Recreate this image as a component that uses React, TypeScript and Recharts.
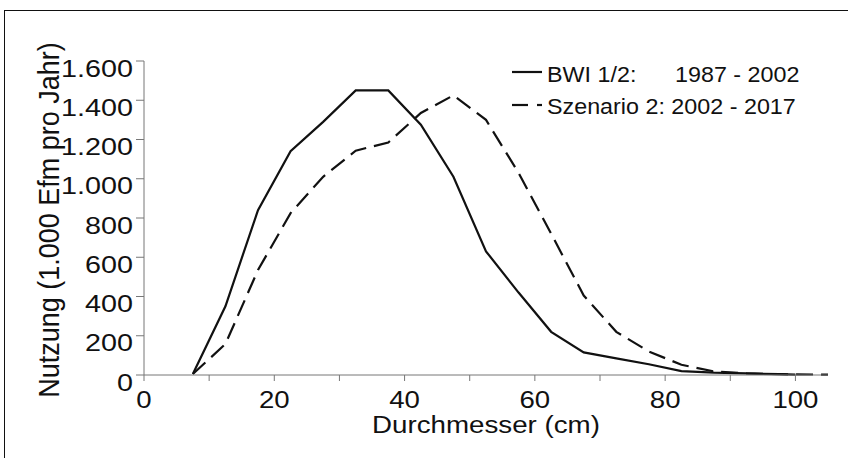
import React from "react";
import { LineChart, Line, XAxis, YAxis } from "recharts";

// Durchmesserklassen (Klassenmitte, cm)
const durchmesser = [
  7.5, 12.5, 17.5, 22.5, 27.5, 32.5, 37.5, 42.5, 47.5, 52.5, 57.5, 62.5, 67.5,
  72.5, 77.5, 82.5, 87.5, 92.5, 97.5, 100, 105,
];
// BWI 1/2: 1987 - 2002
const bwi12 = [
  5, 350, 840, 1140, 1290, 1450, 1450, 1275, 1010, 630, 420, 220, 115, 85, 55,
  20, 12, 8, 4, 2, null,
];
// Szenario 2: 2002 - 2017
const szenario2 = [
  5, 158, 535, 825, 1010, 1143, 1185, 1335, 1425, 1300, 1030, 720, 405, 220,
  120, 52, 18, 8, 4, null, 2,
];
const xTicks = [0, 10, 20, 30, 40, 50, 60, 70, 80, 90, 100];
const yTicks = [0, 200, 400, 600, 800, 1000, 1200, 1400, 1600];

const rows = durchmesser.map((d, i) => ({
  d,
  bwi: bwi12[i],
  szen: szenario2[i],
}));

const FONT = '"Liberation Sans", Arial, Helvetica, sans-serif';
const INK = "#111";
const AXIS = "#777";

const fmt = (v: number) =>
  v >= 1000
    ? `${Math.floor(v / 1000)}.${String(v % 1000).padStart(3, "0")}`
    : String(v);

const YTick = (props: any) => {
  const { x, y, payload } = props;
  return (
    <text
      transform={`translate(${x},${y + 15.5}) scale(1.25,1)`}
      textAnchor="end"
      fontSize={23}
      fontFamily={FONT}
      fill={INK}
    >
      {fmt(payload.value)}
    </text>
  );
};

const XTick = (props: any) => {
  const { x, y, payload } = props;
  if (payload.value % 20 !== 0) return <g />;
  return (
    <text
      transform={`translate(${x},${y + 25}) scale(1.2,1)`}
      textAnchor="middle"
      fontSize={23}
      fontFamily={FONT}
      fill={INK}
    >
      {payload.value}
    </text>
  );
};

export default function App() {
  return (
    <div
      style={{
        position: "absolute",
        left: 0,
        top: 0,
        width: 848,
        height: 458,
        overflow: "hidden",
        background: "#fff",
      }}
    >
      <div
        style={{
          position: "absolute",
          left: 4,
          top: 10,
          width: 900,
          height: 500,
          borderTop: `1.5px solid ${INK}`,
          borderLeft: `1.5px solid ${INK}`,
        }}
      />
      <div style={{ position: "absolute", left: 0, top: 0 }}>
        <LineChart
          width={848}
          height={458}
          data={rows}
          margin={{ top: 61, right: 20, bottom: 0, left: 0 }}
        >
          <XAxis
            dataKey="d"
            type="number"
            domain={[0, 105]}
            ticks={xTicks}
            interval={0}
            height={83}
            tickSize={6}
            tickMargin={2}
            stroke={AXIS}
            tick={XTick}
            allowDataOverflow
          />
          <YAxis
            type="number"
            domain={[0, 1600]}
            ticks={yTicks}
            interval={0}
            width={144}
            tickSize={8}
            tickMargin={3}
            stroke={AXIS}
            tick={YTick}
          />
          <Line
            dataKey="bwi"
            stroke={INK}
            strokeWidth={2.2}
            dot={false}
            connectNulls
            isAnimationActive={false}
          />
          <Line
            dataKey="szen"
            stroke={INK}
            strokeWidth={2.2}
            strokeDasharray="17 8"
            dot={false}
            connectNulls
            isAnimationActive={false}
          />
        </LineChart>
      </div>
      <svg
        width={848}
        height={458}
        style={{ position: "absolute", left: 0, top: 0, pointerEvents: "none" }}
      >
        {/* Legende */}
        <line x1={512} y1={72} x2={542} y2={72} stroke={INK} strokeWidth={2.2} />
        <line x1={512} y1={105} x2={528} y2={105} stroke={INK} strokeWidth={2.2} />
        <line x1={537} y1={105} x2={542} y2={105} stroke={INK} strokeWidth={2.2} />
        <g fontFamily={FONT} fontSize={22} fill={INK}>
          <text transform="translate(547,81.5) scale(1.06,1)">BWI 1/2:</text>
          <text transform="translate(675,81.5) scale(1.06,1)">1987 - 2002</text>
          <text transform="translate(547,113.5) scale(1.06,1)">
            Szenario 2: 2002 - 2017
          </text>
        </g>
        <text
          transform="translate(486,433) scale(1.19,1)"
          textAnchor="middle"
          fontSize={23.3}
          fontFamily={FONT}
          fill={INK}
        >
          Durchmesser (cm)
        </text>
        <text
          transform="translate(59,220) rotate(-90) scale(1,1.12)"
          textAnchor="middle"
          fontSize={27}
          fontFamily={FONT}
          fill={INK}
        >
          Nutzung (1.000 Efm pro Jahr)
        </text>
      </svg>
    </div>
  );
}
